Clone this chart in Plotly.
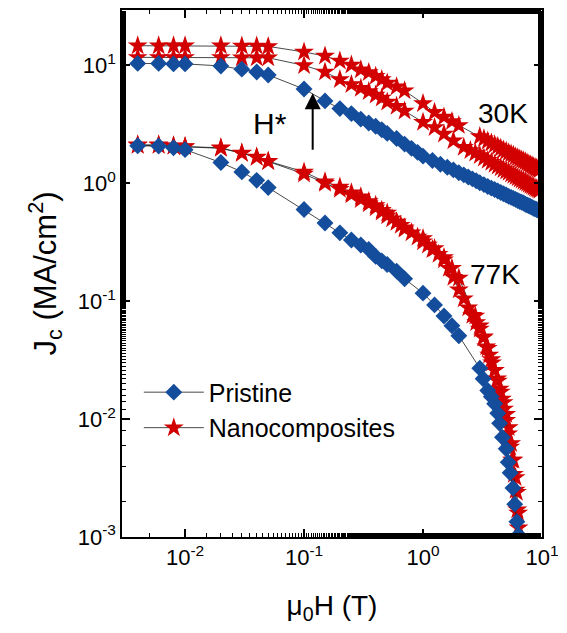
import plotly.graph_objects as go

# ---------------- data ----------------
# Pristine, 30 K
p30_x = [0.004, 0.006, 0.008, 0.01, 0.02, 0.03, 0.04, 0.05, 0.1, 0.15, 0.2, 0.25,
         0.3, 0.35, 0.4, 0.45, 0.5, 0.6, 0.7, 0.8, 0.9, 1.0, 1.2, 1.4, 1.6, 1.8,
         2.0, 2.2, 2.4, 2.6, 2.8, 3.0, 3.25, 3.5, 3.75, 4.0, 4.25, 4.5, 4.75, 5.0,
         5.25, 5.5, 5.75, 6.0, 6.25, 6.5, 6.75, 7.0, 7.25, 7.5, 7.75, 8.0, 8.25,
         8.5, 8.75, 9.0, 9.25, 9.5]
p30_y = [10.4, 10.4, 10.3, 10.3, 9.9, 9.3, 8.8, 8.3, 6.3, 5.0, 4.3, 3.9,
         3.5, 3.25, 3.05, 2.85, 2.65, 2.4, 2.15, 1.98, 1.83, 1.70, 1.56, 1.45, 1.37, 1.30,
         1.23, 1.18, 1.13, 1.09, 1.05, 1.01, 0.975, 0.94, 0.91, 0.885, 0.86, 0.835, 0.815, 0.795,
         0.775, 0.76, 0.745, 0.73, 0.715, 0.70, 0.69, 0.68, 0.665, 0.655, 0.645, 0.635, 0.625,
         0.615, 0.607, 0.60, 0.592, 0.585]

# Nanocomposite A, 30 K
n30a_x = [0.004, 0.006, 0.008, 0.01, 0.02, 0.03, 0.04, 0.05, 0.1, 0.15, 0.2, 0.25,
          0.3, 0.35, 0.4, 0.45, 0.5, 0.6, 0.7, 1.0, 1.25, 1.5, 1.75, 2.0,
          3.0, 3.25, 3.5, 3.75, 4.0, 4.25, 4.5, 4.75, 5.0, 5.25, 5.5, 5.75, 6.0,
          6.25, 6.5, 6.75, 7.0, 7.25, 7.5, 7.75, 8.0, 8.25, 8.5, 8.75, 9.0, 9.25, 9.5]
n30a_y = [14.7, 14.7, 14.7, 14.7, 14.7, 14.6, 14.6, 14.5, 13.0, 12.0, 10.9, 10.1,
          9.2, 8.7, 8.1, 7.6, 7.1, 6.6, 6.1, 4.75, 4.0, 3.65, 3.35, 3.1,
          2.50, 2.39, 2.29, 2.20, 2.12, 2.05, 1.98, 1.92, 1.87, 1.82, 1.77, 1.73, 1.68,
          1.645, 1.61, 1.58, 1.55, 1.52, 1.49, 1.46, 1.43, 1.41, 1.38, 1.36, 1.34, 1.32, 1.30]

# Nanocomposite B, 30 K
n30b_x = [0.004, 0.006, 0.008, 0.01, 0.02, 0.03, 0.04, 0.05, 0.1, 0.15, 0.2, 0.25,
          0.3, 0.35, 0.4, 0.45, 0.5, 0.6, 0.7, 1.0, 1.25, 1.5, 1.8, 2.2,
          2.5, 2.75, 3.0, 3.25, 3.5, 3.75, 4.0, 4.25, 4.5, 4.75, 5.0, 5.25, 5.5, 5.75,
          6.0, 6.25, 6.5, 6.75, 7.0, 7.25, 7.5, 7.75, 8.0, 8.25, 8.5, 8.75, 9.0, 9.25, 9.5]
n30b_y = [11.7, 11.7, 11.7, 11.7, 11.7, 11.6, 11.6, 11.6, 10.0, 8.8, 7.6, 6.9,
          6.4, 6.0, 5.6, 5.3, 4.9, 4.5, 4.1, 3.3, 2.98, 2.62, 2.3, 2.02,
          1.90, 1.81, 1.72, 1.64, 1.57, 1.51, 1.45, 1.40, 1.355, 1.31, 1.27, 1.24, 1.20, 1.17,
          1.14, 1.115, 1.09, 1.066, 1.043, 1.022, 1.00, 0.982, 0.964, 0.947, 0.930, 0.914,
          0.90, 0.885, 0.872]

# Pristine, 77 K
p77_x = [0.004, 0.006, 0.008, 0.01, 0.02, 0.03, 0.04, 0.05, 0.1, 0.15, 0.2, 0.25,
         0.3, 0.35, 0.4, 0.45, 0.5, 0.6, 0.7, 1.0, 1.25, 1.5, 1.75, 2.0,
         3.0, 3.2, 3.5, 3.75, 4.0, 4.25, 4.4, 4.65, 5.0, 5.2, 5.4, 5.7, 5.9, 6.15, 6.35]
p77_y = [2.08, 2.07, 2.0, 1.93, 1.5, 1.25, 1.06, 0.92, 0.60, 0.46, 0.38, 0.33,
         0.30, 0.275, 0.24, 0.22, 0.205, 0.18, 0.155, 0.117, 0.093, 0.075, 0.062, 0.051,
         0.027, 0.022, 0.0175, 0.0155, 0.0135, 0.0112, 0.0092, 0.0070, 0.0056, 0.0043,
         0.0035, 0.0026, 0.0019, 0.00135, 0.00104]

# Nanocomposite A, 77 K
n77a_x = [0.004, 0.006, 0.008, 0.01, 0.02, 0.03, 0.04, 0.05, 0.1, 0.15, 0.2, 0.25,
          0.3, 0.35, 0.4, 0.45, 0.5, 0.6, 0.7, 1.0, 1.25, 1.5, 1.75, 2.0,
          2.75, 3.0, 3.25, 3.5, 3.75, 4.0, 4.25, 4.5, 4.75, 5.0, 5.25, 5.5, 5.75,
          6.0, 6.15, 6.3]
n77a_y = [2.12, 2.12, 2.08, 2.05, 2.0, 1.81, 1.67, 1.54, 1.25, 1.03, 0.93, 0.83,
          0.77, 0.70, 0.65, 0.59, 0.56, 0.47, 0.41, 0.34, 0.28, 0.235, 0.19, 0.157,
          0.075, 0.062, 0.050, 0.040, 0.032, 0.026, 0.021, 0.017, 0.0138, 0.011, 0.0085,
          0.0062, 0.0045, 0.0032, 0.0024, 0.0016]

# Nanocomposite B, 77 K
n77b_x = [0.004, 0.006, 0.008, 0.01, 0.02, 0.03, 0.04, 0.05, 0.1, 0.15, 0.2, 0.25,
          0.3, 0.35, 0.4, 0.45, 0.5, 0.55, 0.6, 0.65, 0.7, 0.8, 0.9, 1.0, 1.1, 1.2,
          1.35, 1.5, 1.65, 1.8, 2.0, 2.2, 2.4, 2.6, 2.8, 3.0, 3.2, 3.4, 3.6, 3.8, 4.0,
          4.2, 4.4, 4.6, 4.8, 5.0, 5.2, 5.4, 5.6, 5.8, 6.0, 6.2, 6.35]
n77b_y = [2.1, 2.1, 2.07, 2.04, 1.98, 1.8, 1.66, 1.53, 1.2, 1.0, 0.89, 0.80,
          0.73, 0.67, 0.62, 0.57, 0.53, 0.50, 0.47, 0.44, 0.42, 0.38, 0.35, 0.32, 0.30, 0.275,
          0.25, 0.225, 0.19, 0.16, 0.125, 0.105, 0.088, 0.076, 0.066, 0.058, 0.049, 0.041,
          0.035, 0.030, 0.026, 0.022, 0.018, 0.0148, 0.0122, 0.0098, 0.0075, 0.0058, 0.0045,
          0.0034, 0.0025, 0.0017, 0.0012]

x_tickvals = [0.01, 0.1, 1, 10]
x_ticktext = ["10<sup>-2</sup>", "10<sup>-1</sup>", "10<sup>0</sup>", "10<sup>1</sup>"]
y_tickvals = [0.001, 0.01, 0.1, 1, 10]
y_ticktext = ["10<sup>-3</sup>", "10<sup>-2</sup>", "10<sup>-1</sup>", "10<sup>0</sup>", "10<sup>1</sup>"]

BLUE = "#134d9b"
RED = "#d20000"
FONT = "Liberation Sans, Arial, sans-serif"

fig = go.Figure()

def add(xs, ys, name, color, symbol, size, show):
    fig.add_trace(go.Scatter(
        x=xs, y=ys, mode="lines+markers", name=name,
        legendgroup=name, showlegend=show,
        legendrank=1 if name == "Pristine" else 2,
        line=dict(color="#1a1a1a", width=0.8),
        marker=dict(symbol=symbol, size=size, color=color, line=dict(width=0)),
    ))

add(n30a_x, n30a_y, "Nanocomposites", RED, "star", 15, True)
add(n30b_x, n30b_y, "Nanocomposites", RED, "star", 15, False)
add(n77a_x, n77a_y, "Nanocomposites", RED, "star", 15, False)
add(n77b_x, n77b_y, "Nanocomposites", RED, "star", 15, False)
add(p30_x, p30_y, "Pristine", BLUE, "diamond", 13, True)
add(p77_x, p77_y, "Pristine", BLUE, "diamond", 13, False)

axis_common = dict(
    type="log", showline=True, linecolor="black", linewidth=1.5, mirror="allticks",
    ticks="inside", ticklen=8, tickwidth=1.5, tickcolor="black", showgrid=False,
    zeroline=False, tickfont=dict(family=FONT, size=22, color="black"),
    minor=dict(ticks="inside", ticklen=4, tickwidth=1, tickcolor="black", showgrid=False),
)

fig.update_xaxes(**axis_common, range=[-2.53, 1.0],
                 tickvals=x_tickvals, ticktext=x_ticktext,
                 title=dict(text="μ<sub>0</sub>H (T)", font=dict(family=FONT, size=28, color="black"),
                            standoff=26))
fig.update_yaxes(**axis_common, range=[-3.0, 1.47],
                 tickvals=y_tickvals, ticktext=y_ticktext,
                 title=dict(text="J<sub>c</sub> (MA/cm<sup>2</sup>)",
                            font=dict(family=FONT, size=31, color="black"), standoff=12))

fig.add_annotation(xref="paper", yref="paper", x=0.352, y=0.784, text="H*", showarrow=False,
                   xanchor="center", yanchor="middle",
                   font=dict(family=FONT, size=30, color="black"))
fig.add_annotation(xref="paper", yref="paper", x=0.908, y=0.803, text="30K", showarrow=False,
                   xanchor="center", yanchor="middle",
                   font=dict(family=FONT, size=28, color="black"))
fig.add_annotation(xref="paper", yref="paper", x=0.887, y=0.499, text="77K", showarrow=False,
                   xanchor="center", yanchor="middle",
                   font=dict(family=FONT, size=28, color="black"))
fig.add_annotation(xref="paper", yref="paper", x=0.454, y=0.842, text="", showarrow=True,
                   arrowhead=2, arrowsize=1.6, arrowwidth=2, arrowcolor="black",
                   axref="pixel", ayref="pixel", ax=0, ay=58)

fig.update_layout(
    width=567, height=633,
    margin=dict(l=122, r=19, t=8, b=96),
    plot_bgcolor="white", paper_bgcolor="white",
    font=dict(family=FONT, color="black"),
    legend=dict(x=0.04, y=0.318, xanchor="left", yanchor="top",
                bgcolor="rgba(0,0,0,0)", itemwidth=60,
                font=dict(family=FONT, size=25, color="black"), tracegroupgap=0),
)

fig.write_html("out.html")
